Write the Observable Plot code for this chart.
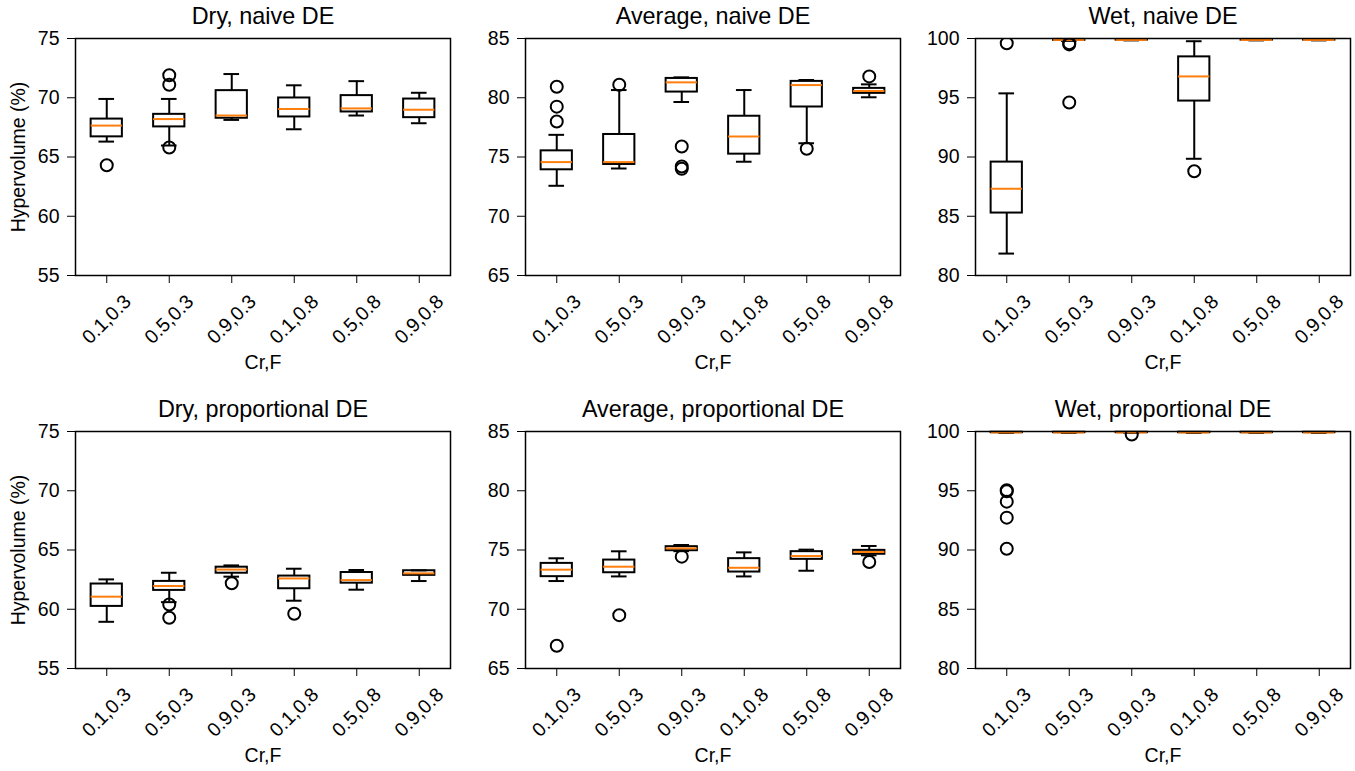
<!DOCTYPE html>
<html><head><meta charset="utf-8">
<script src="https://cdn.jsdelivr.net/npm/d3@7"></script>
<script src="https://cdn.jsdelivr.net/npm/@observablehq/plot@0.6"></script>
<style>
body{margin:0;background:#fff}
#wrap{position:relative;width:1355px;height:771px;background:#fff}
#wrap > svg{position:absolute;overflow:visible}
</style>
</head><body><div id="wrap"></div>
<script>
// Categories (Cr,F)
const categories = ["0.1,0.3","0.5,0.3","0.9,0.3","0.1,0.8","0.5,0.8","0.9,0.8"];

// Y tick values per column
const yTicksDry = [55, 60, 65, 70, 75];
const yTicksAverage = [65, 70, 75, 80, 85];
const yTicksWet = [80, 85, 90, 95, 100];

// Box stats per category: [whisker low, Q1, median, Q3, whisker high, [outliers]]
const dryNaive = [
  [66.3, 66.7, 67.65, 68.2, 69.9, [64.3]],
  [65.97, 67.54, 68.2, 68.6, 69.9, [71.9, 71.1, 65.8]],
  [68.13, 68.27, 68.5, 70.6, 72.0, []],
  [67.34, 68.38, 69.05, 69.98, 71.05, []],
  [68.5, 68.8, 69.1, 70.18, 71.4, []],
  [67.85, 68.32, 68.99, 69.89, 70.42, []]
];
const averageNaive = [
  [72.57, 73.92, 74.57, 75.52, 76.87, [80.93, 79.25, 77.99]],
  [74.03, 74.37, 74.57, 76.9, 80.65, [81.1]],
  [79.64, 80.48, 81.3, 81.63, 81.72, [75.88, 74.2, 74.0]],
  [74.6, 75.24, 76.73, 78.44, 80.65, []],
  [76.16, 79.22, 81.07, 81.38, 81.5, [75.69]],
  [80.04, 80.37, 80.57, 80.79, 81.13, [81.8]]
];
const wetNaive = [
  [81.85, 85.27, 87.32, 89.57, 95.37, [99.6]],
  [99.8, 99.84, 99.88, 99.92, 99.95, [99.6, 99.5, 94.6]],
  [99.84, 99.86, 99.88, 99.9, 99.92, []],
  [89.85, 94.72, 96.8, 98.45, 99.77, [88.8]],
  [99.84, 99.86, 99.88, 99.9, 99.92, []],
  [99.84, 99.86, 99.88, 99.9, 99.92, []]
];
const dryProportional = [
  [58.94, 60.24, 61.06, 62.13, 62.52, []],
  [60.6, 61.59, 61.96, 62.35, 63.08, [60.4, 59.28]],
  [62.75, 63.04, 63.35, 63.55, 63.7, [62.2]],
  [60.72, 61.73, 62.6, 62.8, 63.42, [59.62]],
  [61.65, 62.2, 62.46, 63.1, 63.31, []],
  [62.38, 62.86, 63.03, 63.25, 63.28, []]
];
const averageProportional = [
  [72.38, 72.75, 73.34, 73.87, 74.3, [66.92]],
  [72.77, 73.08, 73.59, 74.15, 74.89, [69.5]],
  [74.9, 74.94, 75.14, 75.28, 75.42, [74.44]],
  [72.77, 73.14, 73.5, 74.27, 74.8, []],
  [73.25, 74.21, 74.49, 74.86, 75.03, []],
  [74.55, 74.64, 74.83, 74.97, 75.34, [73.99]]
];
const wetProportional = [
  [99.88, 99.9, 99.92, 99.94, 99.96, [95.05, 94.95, 94.08, 92.73, 90.11]],
  [99.88, 99.9, 99.92, 99.94, 99.96, []],
  [99.88, 99.9, 99.92, 99.94, 99.96, [99.75]],
  [99.88, 99.9, 99.92, 99.94, 99.96, []],
  [99.88, 99.9, 99.92, 99.94, 99.96, []],
  [99.88, 99.9, 99.92, 99.94, 99.96, []]
];

const titles = ["Dry, naive DE","Average, naive DE","Wet, naive DE","Dry, proportional DE","Average, proportional DE","Wet, proportional DE"];
const xLabel = "Cr,F";
const yLabel = "Hypervolume (%)";

const panels = [
  {title: titles[0], data: dryNaive, ticks: yTicksDry, row: 0, col: 0},
  {title: titles[1], data: averageNaive, ticks: yTicksAverage, row: 0, col: 1},
  {title: titles[2], data: wetNaive, ticks: yTicksWet, row: 0, col: 2},
  {title: titles[3], data: dryProportional, ticks: yTicksDry, row: 1, col: 0},
  {title: titles[4], data: averageProportional, ticks: yTicksAverage, row: 1, col: 1},
  {title: titles[5], data: wetProportional, ticks: yTicksWet, row: 1, col: 2}
];

const FONT = "'Liberation Sans', Arial, Helvetica, sans-serif";
const ORANGE = "#ff7f0e";
const LW = 2;
const FS = 19.5;
const FS_TITLE = 23.4;
const wrap = document.getElementById("wrap");

for (const p of panels) {
  const bx = p.data.map((b, i) => ({pos: i + 1, lo: b[0], q1: b[1], med: b[2], q3: b[3], hi: b[4]}));
  const out = p.data.flatMap((b, i) => b[5].map(v => ({pos: i + 1, v})));
  const positions = categories.map((c, i) => i + 1);
  const marks = [
    Plot.ruleX(bx, {x: "pos", y1: "q3", y2: "hi", stroke: "black", strokeWidth: LW}),
    Plot.ruleX(bx, {x: "pos", y1: "lo", y2: "q1", stroke: "black", strokeWidth: LW}),
    Plot.ruleY(bx, {y: "hi", x1: d => d.pos - 0.125, x2: d => d.pos + 0.125, stroke: "black", strokeWidth: LW}),
    Plot.ruleY(bx, {y: "lo", x1: d => d.pos - 0.125, x2: d => d.pos + 0.125, stroke: "black", strokeWidth: LW}),
    Plot.rect(bx, {x1: d => d.pos - 0.25, x2: d => d.pos + 0.25, y1: "q1", y2: "q3", fill: "none", stroke: "black", strokeWidth: LW}),
    Plot.ruleY(bx, {y: "med", x1: d => d.pos - 0.25, x2: d => d.pos + 0.25, stroke: ORANGE, strokeWidth: LW}),
    Plot.dot(out, {x: "pos", y: "v", r: 6, stroke: "black", strokeWidth: LW, fill: "none", clip: true}),
    Plot.frame({stroke: "black", strokeWidth: 1.5}),
    Plot.text([p.title], {text: d => d, frameAnchor: "top", dy: -22, fontSize: FS_TITLE, lineAnchor: "middle", textAnchor: "middle"}),
    Plot.text([xLabel], {text: d => d, frameAnchor: "bottom", dy: 87, fontSize: FS, lineAnchor: "middle", textAnchor: "middle"}),
    Plot.text(categories, {x: (d, i) => i + 1, text: d => d, frameAnchor: "bottom", dy: 44, rotate: -45, fontSize: FS, lineAnchor: "middle", textAnchor: "middle"})
  ];
  if (p.col === 0) {
    marks.push(Plot.text([yLabel], {text: d => d, frameAnchor: "left", dx: -57, rotate: -90, fontSize: FS, lineAnchor: "middle", textAnchor: "middle"}));
  }
  const svg = Plot.plot({
    width: 455,
    height: 375,
    marginLeft: 75,
    marginRight: 5,
    marginTop: 38,
    marginBottom: 100,
    style: {fontFamily: FONT, fontSize: FS + "px", color: "black", background: "transparent", overflow: "visible"},
    x: {type: "linear", domain: [0.5, 6.5], ticks: positions, tickFormat: () => "", tickSize: 8, label: null, axis: "bottom"},
    y: {domain: [p.ticks[0], p.ticks[p.ticks.length - 1]], ticks: p.ticks, tickSize: 8, tickPadding: 8, label: null, tickFormat: d => String(d)},
    marks
  });
  svg.style.left = (p.col * 450) + "px";
  svg.style.top = (p.row * 393) + "px";
  wrap.appendChild(svg);
}
</script>
</body></html>
